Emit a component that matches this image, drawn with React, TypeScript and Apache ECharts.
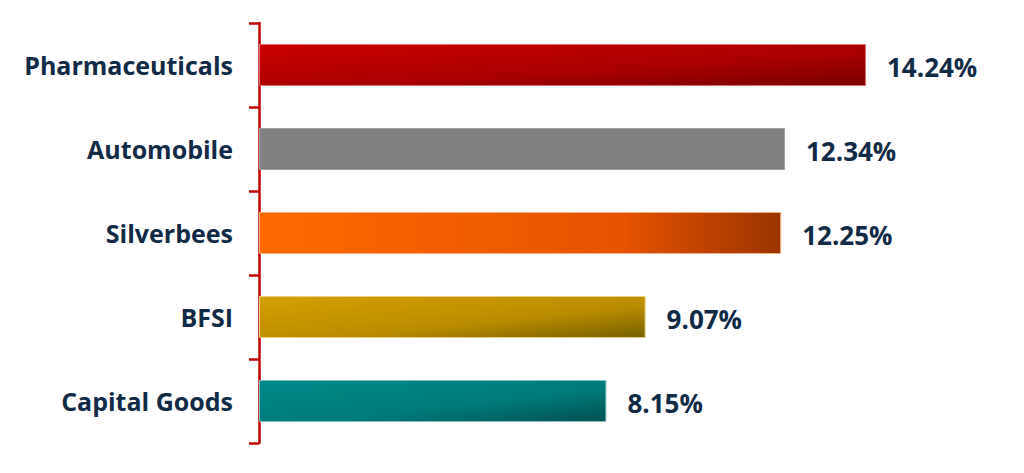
import React, { useEffect, useRef } from "react";
import * as echarts from "echarts";

const categories = ["Pharmaceuticals", "Automobile", "Silverbees", "BFSI", "Capital Goods"];
const values = [14.24, 12.34, 12.25, 9.07, 8.15];

const diag = (a: string, b: string, c: string) =>
  new echarts.graphic.LinearGradient(0, 0, 1, 1, [
    { offset: 0, color: a },
    { offset: 0.6, color: b },
    { offset: 1, color: c },
  ]);

const barColors = [
  diag("#cc0000", "#a80000", "#7a0000"),
  "#808080",
  new echarts.graphic.LinearGradient(0, 0, 1, 0, [
    { offset: 0, color: "#ff6a00" },
    { offset: 0.7, color: "#e65200" },
    { offset: 1, color: "#9a3400" },
  ]),
  diag("#d4a100", "#bb8c00", "#766000"),
  diag("#008a8a", "#007a7a", "#005050"),
];
const borderColors = ["#e07070", "#a0a0a0", "#f0b080", "#e8d080", "#80c0c0"];

export default function App() {
  const ref = useRef<HTMLDivElement>(null);
  useEffect(() => {
    const chart = echarts.init(ref.current!, null, { renderer: "svg" });
    chart.setOption({
      animation: false,
      backgroundColor: "#ffffff",
      grid: { left: 259, top: 23, height: 420, width: 682 },
      xAxis: {
        type: "value",
        min: 0,
        max: 16,
        show: false,
      },
      yAxis: {
        type: "category",
        inverse: true,
        data: categories,
        axisLine: { show: true, lineStyle: { color: "#c00000", width: 2.5 } },
        axisTick: { show: true, length: 10, lineStyle: { color: "#c00000", width: 2.5 } },
        axisLabel: {
          margin: 26,
          color: "#112b47",
          fontFamily: "Open Sans",
          fontWeight: "bold",
          fontSize: 25,
        },
        splitLine: { show: false },
      },
      series: [
        {
          type: "bar",
          barWidth: 42,
          data: values.map((v, i) => ({
            value: v,
            itemStyle: { color: barColors[i], borderColor: borderColors[i], borderWidth: 1 },
          })),
          label: {
            show: true,
            position: "right",
            distance: 21,
            formatter: (p: any) => p.value.toFixed(2) + "%",
            color: "#112b47",
            fontFamily: "Open Sans",
            fontWeight: "bold",
            fontSize: 26,
            offset: [0, 2],
          },
        },
      ],
    });
    return () => chart.dispose();
  }, []);
  return (
    <div
      ref={ref}
      style={{ position: "absolute", left: 0, top: 0, width: 1024, height: 473 }}
    />
  );
}
